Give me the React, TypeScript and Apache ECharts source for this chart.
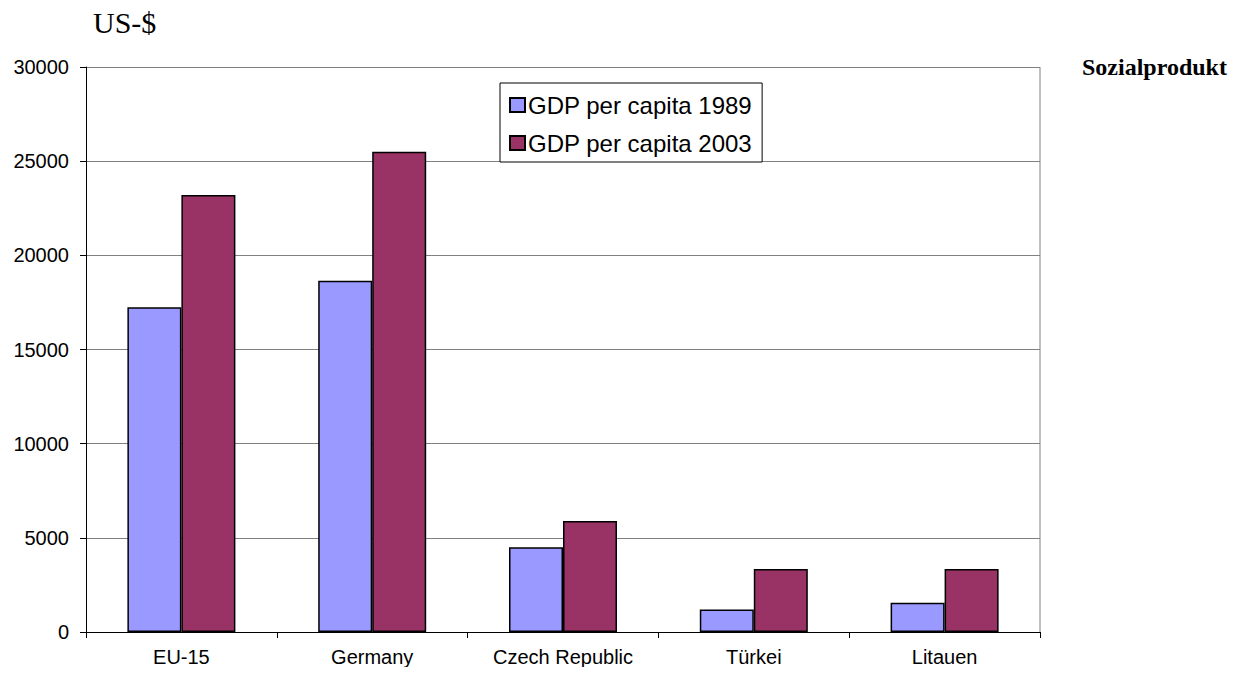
import React, { useEffect, useRef } from "react";
import * as echarts from "echarts";

const categories = ["EU-15", "Germany", "Czech Republic", "Türkei", "Litauen"];
const gdp1989 = [17250, 18650, 4500, 1200, 1550];
const gdp2003 = [23200, 25500, 5900, 3350, 3350];
const yTicks = [0, 5000, 10000, 15000, 20000, 25000, 30000];

const SANS = "'Liberation Sans', Arial, sans-serif";
const SERIF = "'Liberation Serif', 'Times New Roman', serif";

export default function App() {
  const ref = useRef<HTMLDivElement>(null);

  useEffect(() => {
    if (!ref.current) return;
    const chart = echarts.init(ref.current, undefined, { renderer: "svg" });
    chart.setOption({
      animation: false,
      backgroundColor: "#ffffff",
      textStyle: { fontFamily: SANS },
      grid: { left: 86, right: 200, top: 67, bottom: 43, containLabel: false },
      graphic: [
        {
          type: "text",
          x: 93,
          y: 22,
          style: {
            text: "US-$",
            font: `30px ${SERIF}`,
            fill: "#000",
            verticalAlign: "middle",
          },
        },
        {
          type: "text",
          x: 1082,
          y: 67,
          style: {
            text: "Sozialprodukt",
            font: `bold 24px ${SERIF}`,
            fill: "#000",
            verticalAlign: "middle",
          },
        },
        {
          type: "line",
          shape: { x1: 1040, y1: 67, x2: 1040, y2: 632 },
          style: { stroke: "#808080", lineWidth: 1 },
          z: 1,
        },
      ],
      legend: {
        orient: "vertical",
        left: 500,
        top: 83,
        itemWidth: 15,
        itemHeight: 14,
        itemGap: 14,
        padding: [10, 10, 7, 9],
        backgroundColor: "#ffffff",
        borderColor: "#000000",
        borderWidth: 1,
        textStyle: {
          fontSize: 24,
          color: "#000",
          fontFamily: SANS,
          padding: [0, 0, 0, -2],
        },
        data: [
          { name: "GDP per capita 1989", icon: "rect" },
          { name: "GDP per capita 2003", icon: "rect" },
        ],
        z: 10,
      },
      xAxis: {
        type: "category",
        data: categories,
        axisLine: { lineStyle: { color: "#000", width: 1 } },
        axisTick: { show: true, length: 6, lineStyle: { color: "#000" } },
        axisLabel: { color: "#000", fontSize: 20, margin: 15, interval: 0, hideOverlap: false },
        splitLine: { show: false },
      },
      yAxis: {
        type: "value",
        min: 0,
        max: yTicks[yTicks.length - 1],
        interval: yTicks[1] - yTicks[0],
        axisLine: { show: true, lineStyle: { color: "#000", width: 1 } },
        axisTick: { show: true, length: 6, lineStyle: { color: "#000" } },
        axisLabel: {
          color: "#000",
          fontSize: 20,
          margin: 17,
          formatter: (v: number) => String(v),
        },
        splitLine: { show: true, lineStyle: { color: "#808080", width: 1 } },
      },
      series: [
        {
          name: "GDP per capita 1989",
          type: "bar",
          data: gdp1989,
          barWidth: 54,
          barGap: "0%",
          itemStyle: { color: "#9999FF", borderColor: "#000", borderWidth: 1.5 },
        },
        {
          name: "GDP per capita 2003",
          type: "bar",
          data: gdp2003,
          barWidth: 54,
          barGap: "0%",
          itemStyle: { color: "#993366", borderColor: "#000", borderWidth: 1.5 },
        },
      ],
    });
    return () => chart.dispose();
  }, []);

  return <div ref={ref} style={{ width: 1240, height: 675, margin: -8 }} />;
}
